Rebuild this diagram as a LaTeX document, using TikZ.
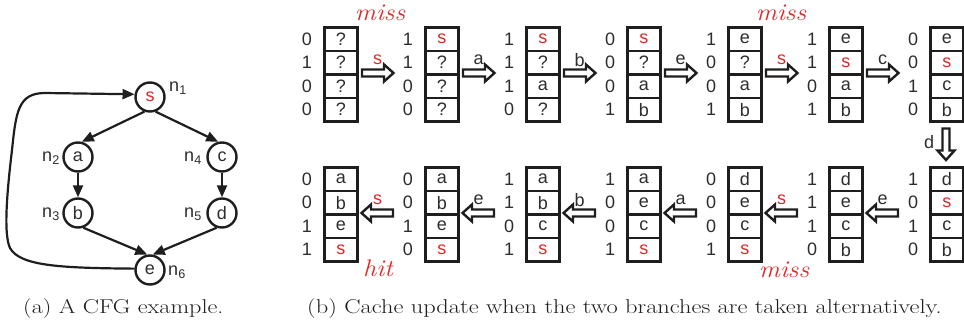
\documentclass[tikz,border=0pt]{standalone}
\usepackage{fontspec}
\newfontfamily\lsans{Liberation Sans}
\usetikzlibrary{arrows.meta}
\definecolor{hl}{RGB}{226,38,38}
\definecolor{ink}{RGB}{30,30,30}
\definecolor{txt}{RGB}{45,45,45}

\tikzset{
  sanstext/.style={font=\lsans\fontsize{18}{18}\selectfont, text=txt},
  cell/.style={sanstext, draw=ink, line width=2.7pt, minimum width=33pt,
    minimum height=23.5pt, inner sep=0pt, anchor=north west},
  agebit/.style={sanstext, inner sep=0pt},
  acc/.style={sanstext, inner sep=0pt},
  barrow/.style={draw=ink, line width=2.4pt, fill=white, line join=miter},
  verdict/.style={font=\itshape\fontsize{24}{24}\selectfont, text=hl, inner sep=0pt,
    xscale=1.1, transform shape},
  vtx/.style={sanstext, circle, draw=ink, line width=2.4pt, minimum size=29pt, inner sep=0pt},
  vname/.style={sanstext, inner sep=0pt},
  edge/.style={draw=ink, line width=2.2pt, -{Triangle[length=12pt,width=10pt]}},
  caption/.style={inner sep=0pt, anchor=base west, font=\fontsize{20}{24}\selectfont,
    text=ink, transform shape},
}

% one cache column: name, left x, top y, list of age/content/colour
\newcommand\cachecol[4]{%
  \foreach \nn/\cc/\kk [count=\i] in {#4} {
    \node[cell, text=\kk] (#1-\i) at (#2, {#3+(\i-1)*23.5}) {\cc};
    \node[agebit] (#1-n\i) at ([xshift=-16pt]#1-\i.west) {\nn};
  }}

% hollow block arrow centred on a named coordinate, rotated by #2
\newcommand\blockarrow[2]{%
  \draw[barrow, shift={(#1)}, rotate=#2]
    (-15.5,-3.5) -- (6.5,-3.5) -- (6.5,-8.5) -- (16,0) -- (6.5,8.5)
    -- (6.5,3.5) -- (-15.5,3.5) -- cycle;}

\begin{document}
\begin{tikzpicture}[x=1pt, y=-1pt]
\useasboundingbox (0,0) rectangle (964,324);

% ---------------- (a) control flow graph ----------------
\node[vtx, text=hl] (s) at (150,97) {s};
\node[vtx] (a) at (78,157) {a};
\node[vtx] (c) at (222,157) {c};
\node[vtx] (b) at (78,213) {b};
\node[vtx] (d) at (222,213) {d};
\node[vtx] (e) at (150,270) {e};

\node[vname] (l1) at (178,88) {n\textsubscript{1}};
\node[vname] (l2) at (51,158) {n\textsubscript{2}};
\node[vname] (l4) at (193,158) {n\textsubscript{4}};
\node[vname] (l3) at (51,214) {n\textsubscript{3}};
\node[vname] (l5) at (193,214) {n\textsubscript{5}};
\node[vname] (l6) at (177,272) {n\textsubscript{6}};

\draw[edge] (s.249) -- (a.76);
\draw[edge] (s.291) -- (c.104);
\draw[edge] (a) -- (b);
\draw[edge] (c) -- (d);
\draw[edge] (b.290) -- (e.100);
\draw[edge] (d.250) -- (e.80);
\draw[edge] (e.175) .. controls (60,268) and (20,266) .. (10,248)
  .. controls (4,235) and (6,200) .. (12,150)
  .. controls (16,112) and (18,93) .. (45,93) -- (s.170);

% ---------------- (b) cache states, top row ----------------
\cachecol{t1}{323}{26}{0/?/txt,1/?/txt,0/?/txt,0/?/txt}
\cachecol{t2}{424}{26}{1/s/hl,1/?/txt,0/?/txt,0/?/txt}
\cachecol{t3}{525}{26}{1/s/hl,1/?/txt,1/a/txt,0/?/txt}
\cachecol{t4}{626}{26}{0/s/hl,0/?/txt,0/a/txt,1/b/txt}
\cachecol{t5}{727}{26}{1/e/txt,0/?/txt,0/a/txt,1/b/txt}
\cachecol{t6}{828}{26}{1/e/txt,1/s/hl,0/a/txt,1/b/txt}
\cachecol{t7}{929}{26}{0/e/txt,0/s/hl,1/c/txt,0/b/txt}

% bottom row
\cachecol{b7}{929}{166}{1/d/txt,0/s/hl,1/c/txt,0/b/txt}
\cachecol{b6}{828}{166}{1/d/txt,1/e/txt,1/c/txt,0/b/txt}
\cachecol{b5}{727}{166}{0/d/txt,0/e/txt,0/c/txt,1/s/hl}
\cachecol{b4}{626}{166}{1/a/txt,0/e/txt,0/c/txt,1/s/hl}
\cachecol{b3}{525}{166}{1/a/txt,1/b/txt,0/c/txt,1/s/hl}
\cachecol{b2}{424}{166}{0/a/txt,0/b/txt,1/e/txt,0/s/hl}
\cachecol{b1}{323}{166}{0/a/txt,0/b/txt,1/e/txt,1/s/hl}

% accesses along the top row
\foreach \k/\lab/\col in {1/s/hl,2/a/txt,3/b/txt,4/e/txt,5/s/hl,6/c/txt} {
  \coordinate (ta\k) at ({323+101*(\k-1)+54.5},73);
  \blockarrow{ta\k}{0}
  \node[acc, text=\col] (tl\k) at ({323+101*(\k-1)+54.5},60) {\lab};
}

% turn down to the bottom row
\coordinate (da) at (946,144);
\blockarrow{da}{-90}
\node[acc] (dl) at (929,142) {d};

% accesses along the bottom row, right to left
\foreach \k/\lab/\col in {6/e/txt,5/s/hl,4/a/txt,3/b/txt,2/e/txt,1/s/hl} {
  \coordinate (ba\k) at ({323+101*(\k-1)+54.5},213);
  \blockarrow{ba\k}{180}
  \node[acc, text=\col] (bl\k) at ({323+101*(\k-1)+54.5},200) {\lab};
}

% outcomes
\node[verdict] (m1) at (380,13) {miss};
\node[verdict] (m2) at (781,13) {miss};
\node[verdict] (h1) at (378,268) {hit};
\node[verdict] (m3) at (784,270) {miss};

% captions
\node[caption, xscale=1.21] (capa) at (23,313) {(a) A CFG example.};
\node[caption, xscale=1.22] (capb) at (307,313)
  {(b) Cache update when the two branches are taken alternatively.};
\end{tikzpicture}
\end{document}
